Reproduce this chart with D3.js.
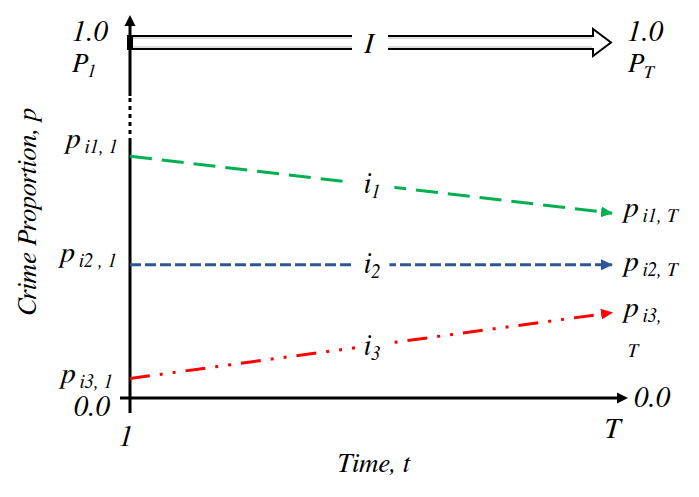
<!DOCTYPE html>
<html>
<head>
<meta charset="utf-8">
<script src="https://cdn.jsdelivr.net/npm/d3@7"></script>
<style>
  body { margin: 0; background: #fff; }
  svg { display: block; }
</style>
</head>
<body>
<svg></svg>
<script>
// chart data
const timeLabels = ["1", "T"];               // x ends: t = 1 .. T
const seriesIds = ["1", "2", "3"];           // i1, i2, i3
const startValues = [0.68, 0.375, 0.055];     // p at t = 1
const endValues = [0.52, 0.375, 0.24];        // p at t = T
const pTicks = ["0.0", "1.0"];

const width = 699,
  height = 497,
  font = "FreeSerif, 'Liberation Serif', serif";

const svg = d3.select("svg")
  .attr("width", width)
  .attr("height", height);

const x = d3.scaleLinear().domain([0, 1]).range([130, 612]);
const y = d3.scaleLinear().domain([0, 1]).range([398, 42.5]);

const colors = ["#00b050", "#2f5597", "#ff0000"];
const dashes = ["22,10", "11,4", "20,10,3,10,3,10"];

const defs = svg.append("defs");
colors.forEach((c, i) => {
  defs.append("marker")
    .attr("id", "arr" + i)
    .attr("markerUnits", "userSpaceOnUse")
    .attr("viewBox", "0 0 12 12")
    .attr("refX", 11).attr("refY", 6)
    .attr("markerWidth", 12).attr("markerHeight", 12)
    .attr("orient", "auto")
    .append("path")
    .attr("d", "M0,0.5 L12,6 L0,11.5 Z")
    .attr("fill", c);
});

// axes
const ax = x(0);
svg.append("line") // solid top
  .attr("x1", ax).attr("x2", ax).attr("y1", 24).attr("y2", 96)
  .attr("stroke", "#000").attr("stroke-width", 3);
svg.append("line") // broken part
  .attr("x1", ax).attr("x2", ax).attr("y1", 98).attr("y2", 138)
  .attr("stroke", "#000").attr("stroke-width", 3).attr("stroke-dasharray", "4,4");
svg.append("line")
  .attr("x1", ax).attr("x2", ax).attr("y1", 138).attr("y2", 413)
  .attr("stroke", "#000").attr("stroke-width", 3);
svg.append("path")
  .attr("d", `M${ax},15 L${ax + 5.5},26 L${ax - 5.5},26 Z`)
  .attr("fill", "#000");

svg.append("line")
  .attr("x1", 120).attr("x2", 619).attr("y1", y(0)).attr("y2", y(0))
  .attr("stroke", "#000").attr("stroke-width", 3);
svg.append("path")
  .attr("d", `M628,${y(0)} L617,${y(0) - 5.5} L617,${y(0) + 5.5} Z`)
  .attr("fill", "#000");

// double arrow I at p = 1
const yt = y(1) - 6.5, yb = y(1) + 6.5;
svg.append("path")
  .attr("d", `M${ax},${yt} L593,${yt} L593,${y(1) - 13.5} L611,${y(1)} L593,${y(1) + 13.5} L593,${yb} L${ax},${yb}`)
  .attr("fill", "#fff")
  .attr("stroke", "#000")
  .attr("stroke-width", 2);
svg.append("line")
  .attr("x1", ax + 2).attr("x2", 592).attr("y1", yt + 2).attr("y2", yt + 2)
  .attr("stroke", "#bbb").attr("stroke-width", 1);
svg.append("line")
  .attr("x1", ax + 2).attr("x2", 592).attr("y1", yb - 2).attr("y2", yb - 2)
  .attr("stroke", "#bbb").attr("stroke-width", 1);
svg.append("rect")
  .attr("x", ax - 3).attr("y", yt - 1).attr("width", 6).attr("height", yb - yt + 2)
  .attr("fill", "#000");

// series lines
const series = seriesIds.map((id, i) => ({ id, v: [startValues[i], endValues[i]] }));
svg.selectAll("line.series")
  .data(series)
  .enter()
  .append("line")
  .attr("class", "series")
  .attr("x1", x(0)).attr("y1", d => y(d.v[0]))
  .attr("x2", x(1)).attr("y2", d => y(d.v[1]))
  .attr("stroke", (d, i) => colors[i])
  .attr("stroke-width", 3)
  .attr("stroke-dasharray", (d, i) => dashes[i])
  .attr("marker-end", (d, i) => `url(#arr${i})`);

// text helpers
function label(px, py, parts, anchor, size) {
  const t = svg.append("text")
    .attr("x", px).attr("y", py)
    .attr("font-family", font)
    .attr("font-style", "italic")
    .attr("text-anchor", anchor || "start")
    .attr("font-size", size || 26);
  parts.forEach(p => {
    t.append("tspan")
      .attr("dy", p.dy || 0)
      .attr("font-size", p.size || null)
      .text(p.t);
  });
  return t;
}
function knockout(t, pad) {
  const b = t.node().getBBox();
  svg.insert("rect", () => t.node())
    .attr("x", b.x - pad).attr("y", b.y)
    .attr("width", b.width + 2 * pad).attr("height", b.height)
    .attr("fill", "#fff");
}

// series labels in middle
const midLabelY = [193, 273, 355];
const midPad = [14, 9, 9];
series.forEach((d, i) => {
  const t = label((x(0) + x(1)) / 2 - 7, midLabelY[i],
    [{ t: "i" }, { t: d.id, size: 19, dy: 5 }], "start", 28);
  knockout(t, midPad[i]);
});
knockout(label((x(0) + x(1)) / 2 - 7, y(1) + 10, [{ t: "I" }], "start", 29), 12);

// left / right end labels
const leftY = [148, 262, 383];
const leftX = [118, 117, 113];
const leftSub = [" i1, 1", " i2 , 1", " i3, 1"];
series.forEach((d, i) => {
  label(leftX[i], leftY[i], [{ t: "p" }, { t: leftSub[i], size: 19, dy: 5 }], "end", 30);
});
const rightY = [217, 271, 317];
const rightSub = [" i1, T", " i2, T", " i3,"];
series.forEach((d, i) => {
  label(624, rightY[i], [{ t: "p" }, { t: rightSub[i], size: 19, dy: 5 }], "start", 30);
});
label(627, 357, [{ t: "T" }], "start", 19);

// tick labels
label(108, 41, [{ t: pTicks[1] }], "end", 29);
label(72, 72, [{ t: "P" }, { t: "1", size: 18, dy: 5 }], "start", 27);
label(627, 41, [{ t: pTicks[1] }], "start", 29);
label(628, 72, [{ t: "P" }, { t: "T", size: 18, dy: 6 }], "start", 27);
label(110, 416, [{ t: pTicks[0] }], "end", 29);
label(634, 407, [{ t: pTicks[0] }], "start", 29);

label(x(0) - 4, 446, [{ t: timeLabels[0] }], "middle", 29);
label(x(1), 438, [{ t: timeLabels[1] }], "middle", 29);

// axis titles
label(373, 472, [{ t: "Time, t" }], "middle", 27);
svg.append("text")
  .attr("transform", "translate(36,212) rotate(-90)")
  .attr("font-family", font)
  .attr("font-style", "italic")
  .attr("text-anchor", "middle")
  .attr("font-size", 27)
  .text("Crime Proportion, p");
</script>
</body>
</html>
